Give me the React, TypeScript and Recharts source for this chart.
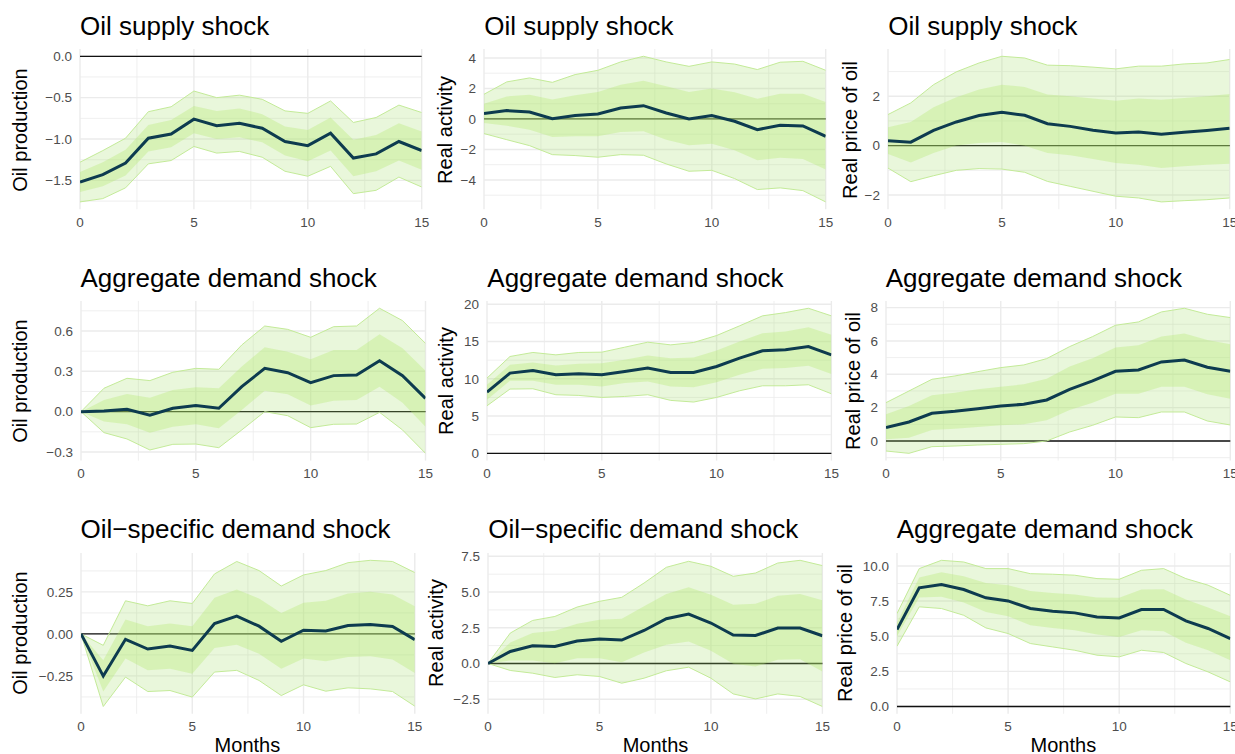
import React from "react";
import {
  ComposedChart,
  Area,
  Line,
  XAxis,
  YAxis,
  ReferenceLine,
} from "recharts";

const months = [0, 1, 2, 3, 4, 5, 6, 7, 8, 9, 10, 11, 12, 13, 14, 15];
const xTicks = [0, 5, 10, 15];
const xMinor = [2.5, 7.5, 12.5];

// Oil supply shock -> oil production
const supplyProdMed = [-1.52, -1.43, -1.29, -0.99, -0.94, -0.76, -0.84, -0.81, -0.87, -1.03, -1.08, -0.93, -1.23, -1.18, -1.03, -1.14];
const supplyProdHiOut = [-1.28, -1.14, -0.99, -0.67, -0.61, -0.42, -0.5, -0.47, -0.52, -0.66, -0.69, -0.54, -0.8, -0.74, -0.59, -0.68];
const supplyProdHiIn = [-1.4, -1.28, -1.13, -0.83, -0.77, -0.6, -0.66, -0.63, -0.7, -0.85, -0.89, -0.74, -1.01, -0.95, -0.81, -0.91];
const supplyProdLoIn = [-1.64, -1.57, -1.44, -1.15, -1.1, -0.93, -1.0, -0.98, -1.04, -1.2, -1.27, -1.14, -1.45, -1.39, -1.26, -1.37];
const supplyProdLoOut = [-1.76, -1.72, -1.59, -1.3, -1.26, -1.09, -1.17, -1.15, -1.22, -1.39, -1.45, -1.33, -1.66, -1.62, -1.46, -1.58];

// Oil supply shock -> real activity
const supplyActMed = [0.35, 0.55, 0.46, 0.02, 0.22, 0.33, 0.72, 0.87, 0.39, 0.0, 0.22, -0.15, -0.7, -0.42, -0.46, -1.14];
const supplyActHiOut = [1.62, 2.43, 2.69, 2.4, 2.91, 3.19, 3.74, 4.11, 3.74, 3.45, 3.74, 3.6, 3.24, 3.72, 3.78, 3.19];
const supplyActHiIn = [1.0, 1.48, 1.59, 1.27, 1.55, 1.77, 2.25, 2.5, 2.14, 1.77, 1.99, 1.75, 1.33, 1.66, 1.66, 1.11];
const supplyActLoIn = [-0.26, -0.44, -0.7, -1.18, -1.14, -1.14, -0.85, -0.81, -1.36, -1.73, -1.62, -2.05, -2.71, -2.54, -2.62, -3.32];
const supplyActLoOut = [-0.96, -1.36, -1.75, -2.34, -2.4, -2.51, -2.34, -2.38, -2.95, -3.43, -3.37, -3.91, -4.63, -4.52, -4.7, -5.44];

// Oil supply shock -> real price of oil
const supplyPriceMed = [0.2, 0.14, 0.62, 0.96, 1.22, 1.35, 1.23, 0.89, 0.78, 0.62, 0.51, 0.55, 0.46, 0.54, 0.61, 0.7];
const supplyPriceHiOut = [1.26, 1.73, 2.47, 2.99, 3.35, 3.62, 3.55, 3.26, 3.24, 3.18, 3.11, 3.22, 3.22, 3.31, 3.35, 3.49];
const supplyPriceHiIn = [0.74, 0.96, 1.55, 1.96, 2.27, 2.47, 2.38, 2.07, 2.0, 1.91, 1.82, 1.91, 1.86, 1.93, 2.0, 2.09];
const supplyPriceLoIn = [-0.34, -0.68, -0.3, 0.01, 0.11, 0.15, 0.0, -0.3, -0.39, -0.54, -0.7, -0.77, -0.91, -0.84, -0.77, -0.73];
const supplyPriceLoOut = [-0.91, -1.46, -1.22, -1.0, -0.93, -0.95, -1.08, -1.45, -1.65, -1.85, -2.05, -2.12, -2.28, -2.23, -2.19, -2.12];

// Aggregate demand shock -> oil production
const aggProdMed = [0, 0.005, 0.017, -0.027, 0.025, 0.045, 0.025, 0.186, 0.322, 0.29, 0.216, 0.268, 0.273, 0.379, 0.268, 0.099];
const aggProdHiOut = [0, 0.174, 0.248, 0.231, 0.293, 0.322, 0.315, 0.496, 0.637, 0.612, 0.553, 0.632, 0.637, 0.769, 0.677, 0.508];
const aggProdHiIn = [0, 0.087, 0.131, 0.104, 0.161, 0.181, 0.174, 0.335, 0.479, 0.446, 0.389, 0.459, 0.459, 0.575, 0.471, 0.305];
const aggProdLoIn = [0, -0.074, -0.094, -0.156, -0.112, -0.094, -0.124, 0.012, 0.156, 0.129, 0.045, 0.082, 0.087, 0.186, 0.067, -0.112];
const aggProdLoOut = [0, -0.156, -0.203, -0.285, -0.243, -0.241, -0.268, -0.136, 0.0, -0.03, -0.119, -0.094, -0.092, -0.005, -0.136, -0.31];

// Aggregate demand shock -> real activity
const aggActMed = [8.21, 10.76, 11.12, 10.54, 10.67, 10.54, 10.98, 11.43, 10.85, 10.85, 11.65, 12.77, 13.75, 13.88, 14.33, 13.21];
const aggActHiOut = [10.09, 12.99, 13.53, 13.21, 13.53, 13.57, 14.24, 14.91, 14.55, 14.87, 15.8, 17.1, 18.44, 18.88, 19.46, 18.44];
const aggActHiIn = [9.2, 11.88, 12.19, 11.79, 12.01, 12.1, 12.54, 13.13, 12.77, 12.86, 13.79, 15.0, 16.12, 16.34, 16.92, 15.89];
const aggActLoIn = [7.19, 9.73, 9.73, 9.2, 9.2, 8.97, 9.42, 9.64, 8.97, 8.88, 9.55, 10.54, 11.34, 11.43, 11.74, 10.63];
const aggActLoOut = [6.38, 8.62, 8.66, 7.86, 7.77, 7.5, 7.63, 7.86, 7.1, 6.88, 7.5, 8.39, 9.06, 9.06, 9.2, 7.99];

// Aggregate demand shock -> real price of oil
const aggPriceMed = [0.8, 1.14, 1.66, 1.78, 1.94, 2.1, 2.2, 2.46, 3.1, 3.6, 4.18, 4.26, 4.74, 4.86, 4.42, 4.18];
const aggPriceHiOut = [2.3, 3.0, 3.7, 3.9, 4.16, 4.4, 4.56, 4.94, 5.66, 6.26, 6.94, 7.14, 7.74, 7.96, 7.6, 7.4];
const aggPriceHiIn = [1.6, 2.1, 2.74, 2.9, 3.1, 3.26, 3.4, 3.74, 4.46, 4.96, 5.6, 5.74, 6.26, 6.44, 6.06, 5.8];
const aggPriceLoIn = [0.1, 0.2, 0.66, 0.74, 0.84, 0.94, 1.0, 1.24, 1.86, 2.3, 2.84, 2.84, 3.26, 3.26, 2.8, 2.54];
const aggPriceLoOut = [-0.6, -0.74, -0.34, -0.3, -0.24, -0.2, -0.16, 0.0, 0.54, 0.94, 1.44, 1.4, 1.74, 1.74, 1.2, 0.96];

// Oil-specific demand shock -> oil production
const oilProdMed = [0, -0.251, -0.032, -0.09, -0.072, -0.098, 0.062, 0.106, 0.046, -0.044, 0.022, 0.018, 0.05, 0.056, 0.044, -0.034];
const oilProdHiOut = [0, -0.068, 0.197, 0.167, 0.197, 0.181, 0.357, 0.431, 0.377, 0.285, 0.351, 0.377, 0.424, 0.438, 0.431, 0.365];
const oilProdHiIn = [0, -0.157, 0.086, 0.046, 0.062, 0.046, 0.215, 0.265, 0.211, 0.125, 0.185, 0.197, 0.241, 0.251, 0.235, 0.165];
const oilProdLoIn = [0, -0.343, -0.147, -0.217, -0.207, -0.237, -0.084, -0.064, -0.118, -0.207, -0.147, -0.163, -0.137, -0.133, -0.153, -0.233];
const oilProdLoOut = [0, -0.432, -0.257, -0.343, -0.337, -0.376, -0.227, -0.217, -0.277, -0.367, -0.303, -0.341, -0.321, -0.327, -0.343, -0.43];

// Oil-specific demand shock -> real activity
const oilActMed = [0, 0.84, 1.24, 1.19, 1.57, 1.71, 1.64, 2.31, 3.13, 3.46, 2.83, 1.99, 1.96, 2.48, 2.48, 1.94];
const oilActHiOut = [0, 2.13, 3.01, 3.29, 3.95, 4.35, 4.63, 5.63, 6.73, 7.15, 6.8, 6.1, 6.33, 7.03, 7.22, 6.85];
const oilActHiIn = [0, 1.47, 2.13, 2.29, 2.78, 3.06, 3.13, 4.0, 4.86, 5.33, 4.81, 4.11, 4.18, 4.74, 4.86, 4.42];
const oilActLoIn = [0, 0.21, 0.21, 0.02, 0.37, 0.37, 0.09, 0.77, 1.31, 1.54, 0.89, -0.02, -0.21, 0.26, 0.3, -0.56];
const oilActLoOut = [0, -0.49, -0.68, -0.98, -0.79, -0.91, -1.38, -1.03, -0.51, -0.26, -1.03, -2.13, -2.48, -2.13, -2.31, -3.01];

// bottom-right panel (titled "Aggregate demand shock" in the source) -> real price of oil
const lastPriceMed = [5.47, 8.44, 8.67, 8.32, 7.73, 7.51, 6.97, 6.78, 6.66, 6.37, 6.3, 6.9, 6.9, 6.09, 5.55, 4.83];
const lastPriceHiOut = [6.61, 9.81, 10.4, 10.28, 9.81, 9.81, 9.45, 9.41, 9.34, 9.1, 9.05, 9.69, 9.81, 9.1, 8.63, 7.91];
const lastPriceHiIn = [5.95, 9.17, 9.55, 9.27, 8.79, 8.63, 8.22, 8.08, 7.96, 7.75, 7.73, 8.32, 8.34, 7.61, 7.04, 6.42];
const lastPriceLoIn = [5.0, 7.75, 7.8, 7.39, 6.73, 6.42, 5.78, 5.59, 5.43, 5.12, 4.95, 5.43, 5.36, 4.53, 4.0, 3.29];
const lastPriceLoOut = [4.29, 7.09, 6.97, 6.49, 5.59, 5.19, 4.48, 4.24, 4.0, 3.65, 3.53, 4.0, 3.84, 3.06, 2.46, 1.75];

const FONT = '"Liberation Sans", Arial, Helvetica, sans-serif';
const GRID = "#ebebeb";
const TICK = "#4d4d4d";
const LINE = "#0d3b4f";

type Box = { left: number; right: number; top: number; bottom: number };

type PanelProps = {
  title: string;
  yLabel: string;
  med: number[];
  hiOut: number[];
  hiIn: number[];
  loIn: number[];
  loOut: number[];
  yTicks: number[];
  yMinor: number[];
  digits: number;
  box: Box;
  labelX: number;
  showMonths?: boolean;
};

const fmt = (digits: number) => (v: number) => {
  const s = Math.abs(v).toFixed(digits);
  return v < 0 ? "\u2212" + s : s;
};

function Panel(p: PanelProps) {
  const rows = months.map((h, i) => ({
    h,
    med: p.med[i],
    band90: [p.loOut[i], p.hiOut[i]],
    band68: [p.loIn[i], p.hiIn[i]],
  }));

  // ggplot-like 5% expansion around data incl. the zero line
  const all = [...p.loOut, ...p.hiOut, ...p.med, 0];
  const lo = Math.min(...all);
  const hi = Math.max(...all);
  const pad = (hi - lo) * 0.05;
  const yDomain = [lo - pad, hi + pad];

  const YW = 70;
  const MT = 6;
  const MR = 14;
  const XH = 32;
  const w = p.box.right - p.box.left;
  const h = p.box.bottom - p.box.top;
  const chartW = YW + w + MR;
  const chartH = MT + h + XH;
  const margin = { top: MT, right: MR, bottom: 0, left: 0 };
  const holder: React.CSSProperties = {
    position: "absolute",
    left: p.box.left - YW,
    top: p.box.top - MT,
  };

  const axes = (ticks: boolean) => [
    <XAxis
      key="xa"
      dataKey="h"
      type="number"
      domain={[0, 15]}
      ticks={xTicks}
      interval={0}
      height={XH}
      axisLine={false}
      tickLine={false}
      allowDataOverflow
      tick={ticks ? { fill: TICK, fontSize: 13.5 } : false}
    />,
    <YAxis
      key="ya"
      type="number"
      domain={yDomain}
      ticks={p.yTicks}
      interval={0}
      width={YW}
      axisLine={false}
      tickLine={false}
      allowDataOverflow
      tickFormatter={fmt(p.digits)}
      tick={ticks ? { fill: TICK, fontSize: 13.5 } : false}
    />,
  ];

  return (
    <>
      <div
        style={{
          position: "absolute",
          left: p.box.left,
          top: p.box.top - 36.5,
          fontSize: 26,
          lineHeight: "26px",
          color: "#000",
          whiteSpace: "nowrap",
        }}
      >
        {p.title}
      </div>
      <div
        style={{
          position: "absolute",
          left: p.labelX - 1.75,
          top: (p.box.top + p.box.bottom) / 2,
          transform: "translate(-50%, -50%) rotate(-90deg)",
          fontSize: 20,
          lineHeight: "20px",
          color: "#000",
          whiteSpace: "nowrap",
        }}
      >
        {p.yLabel}
      </div>
      {p.showMonths && (
        <div
          style={{
            position: "absolute",
            left: (p.box.left + p.box.right) / 2,
            top: 735,
            transform: "translateX(-50%)",
            fontSize: 20,
            lineHeight: "20px",
            color: "#000",
          }}
        >
          Months
        </div>
      )}
      {/* back layer: grid + zero line, so the ribbons sit on top of them */}
      <div style={holder}>
        <ComposedChart width={chartW} height={chartH} data={rows} margin={margin}>
          {axes(false)}
          {xMinor.map((v) => (
            <ReferenceLine key={"xm" + v} x={v} stroke={GRID} strokeWidth={0.8} />
          ))}
          {p.yMinor.map((v) => (
            <ReferenceLine key={"ym" + v} y={v} stroke={GRID} strokeWidth={0.8} />
          ))}
          {xTicks.map((v) => (
            <ReferenceLine key={"x" + v} x={v} stroke={GRID} strokeWidth={1.4} />
          ))}
          {p.yTicks.map((v) => (
            <ReferenceLine key={"y" + v} y={v} stroke={GRID} strokeWidth={1.4} />
          ))}
          <ReferenceLine y={0} stroke="#111" strokeWidth={1.3} />
        </ComposedChart>
      </div>
      {/* front layer: ticks, ribbons, median */}
      <div style={holder}>
        <ComposedChart width={chartW} height={chartH} data={rows} margin={margin}>
          {axes(true)}
          <Area
            type="linear"
            dataKey="band90"
            fill="#a8e070"
            fillOpacity={0.25}
            stroke="#c3ea98"
            strokeWidth={1}
            dot={false}
            activeDot={false}
            isAnimationActive={false}
          />
          <Area
            type="linear"
            dataKey="band68"
            fill="#b0e86a"
            fillOpacity={0.32}
            stroke="none"
            dot={false}
            activeDot={false}
            isAnimationActive={false}
          />
          <Line
            type="linear"
            dataKey="med"
            stroke={LINE}
            strokeWidth={3}
            dot={false}
            activeDot={false}
            isAnimationActive={false}
          />
        </ComposedChart>
      </div>
    </>
  );
}

export default function App() {
  return (
    <div
      style={{
        position: "absolute",
        left: 0,
        top: 0,
        width: 1235,
        height: 754,
        background: "#fff",
        fontFamily: FONT,
        overflow: "hidden",
      }}
    >
      <Panel
        title="Oil supply shock"
        yLabel="Oil production"
        med={supplyProdMed}
        hiOut={supplyProdHiOut}
        hiIn={supplyProdHiIn}
        loIn={supplyProdLoIn}
        loOut={supplyProdLoOut}
        yTicks={[-1.5, -1.0, -0.5, 0.0]}
        yMinor={[-1.75, -1.25, -0.75, -0.25]}
        digits={1}
        box={{ left: 80, right: 421.7, top: 49.4, bottom: 209.6 }}
        labelX={21.3}
      />
      <Panel
        title="Oil supply shock"
        yLabel="Real activity"
        med={supplyActMed}
        hiOut={supplyActHiOut}
        hiIn={supplyActHiIn}
        loIn={supplyActLoIn}
        loOut={supplyActLoOut}
        yTicks={[-4, -2, 0, 2, 4]}
        yMinor={[-5, -3, -1, 1, 3]}
        digits={0}
        box={{ left: 484.3, right: 826, top: 49.4, bottom: 209.6 }}
        labelX={446.3}
      />
      <Panel
        title="Oil supply shock"
        yLabel="Real price of oil"
        med={supplyPriceMed}
        hiOut={supplyPriceHiOut}
        hiIn={supplyPriceHiIn}
        loIn={supplyPriceLoIn}
        loOut={supplyPriceLoOut}
        yTicks={[-2, 0, 2]}
        yMinor={[-1, 1, 3]}
        digits={0}
        box={{ left: 888.3, right: 1230, top: 49.4, bottom: 209.6 }}
        labelX={851.3}
      />
      <Panel
        title="Aggregate demand shock"
        yLabel="Oil production"
        med={aggProdMed}
        hiOut={aggProdHiOut}
        hiIn={aggProdHiIn}
        loIn={aggProdLoIn}
        loOut={aggProdLoOut}
        yTicks={[-0.3, 0.0, 0.3, 0.6]}
        yMinor={[-0.15, 0.15, 0.45, 0.75]}
        digits={1}
        box={{ left: 80.5, right: 425, top: 301.2, bottom: 460.8 }}
        labelX={21.3}
      />
      <Panel
        title="Aggregate demand shock"
        yLabel="Real activity"
        med={aggActMed}
        hiOut={aggActHiOut}
        hiIn={aggActHiIn}
        loIn={aggActLoIn}
        loOut={aggActLoOut}
        yTicks={[0, 5, 10, 15, 20]}
        yMinor={[2.5, 7.5, 12.5, 17.5]}
        digits={0}
        box={{ left: 487.3, right: 831.7, top: 301.2, bottom: 460.8 }}
        labelX={448}
      />
      <Panel
        title="Aggregate demand shock"
        yLabel="Real price of oil"
        med={aggPriceMed}
        hiOut={aggPriceHiOut}
        hiIn={aggPriceHiIn}
        loIn={aggPriceLoIn}
        loOut={aggPriceLoOut}
        yTicks={[0, 2, 4, 6, 8]}
        yMinor={[-1, 1, 3, 5, 7]}
        digits={0}
        box={{ left: 885.7, right: 1230, top: 301.2, bottom: 460.8 }}
        labelX={855}
      />
      <Panel
        title={"Oil\u2212specific demand shock"}
        yLabel="Oil production"
        med={oilProdMed}
        hiOut={oilProdHiOut}
        hiIn={oilProdHiIn}
        loIn={oilProdLoIn}
        loOut={oilProdLoOut}
        yTicks={[-0.25, 0.0, 0.25]}
        yMinor={[-0.375, -0.125, 0.125, 0.375]}
        digits={2}
        box={{ left: 80.5, right: 414.3, top: 552.8, bottom: 713.6 }}
        labelX={21.3}
        showMonths
      />
      <Panel
        title={"Oil\u2212specific demand shock"}
        yLabel="Real activity"
        med={oilActMed}
        hiOut={oilActHiOut}
        hiIn={oilActHiIn}
        loIn={oilActLoIn}
        loOut={oilActLoOut}
        yTicks={[-2.5, 0.0, 2.5, 5.0, 7.5]}
        yMinor={[-1.25, 1.25, 3.75, 6.25]}
        digits={1}
        box={{ left: 488.3, right: 822.7, top: 552.8, bottom: 713.6 }}
        labelX={438}
        showMonths
      />
      <Panel
        title="Aggregate demand shock"
        yLabel="Real price of oil"
        med={lastPriceMed}
        hiOut={lastPriceHiOut}
        hiIn={lastPriceHiIn}
        loIn={lastPriceLoIn}
        loOut={lastPriceLoOut}
        yTicks={[0.0, 2.5, 5.0, 7.5, 10.0]}
        yMinor={[1.25, 3.75, 6.25, 8.75]}
        digits={1}
        box={{ left: 896.7, right: 1230, top: 552.8, bottom: 713.6 }}
        labelX={846.3}
        showMonths
      />
    </div>
  );
}
